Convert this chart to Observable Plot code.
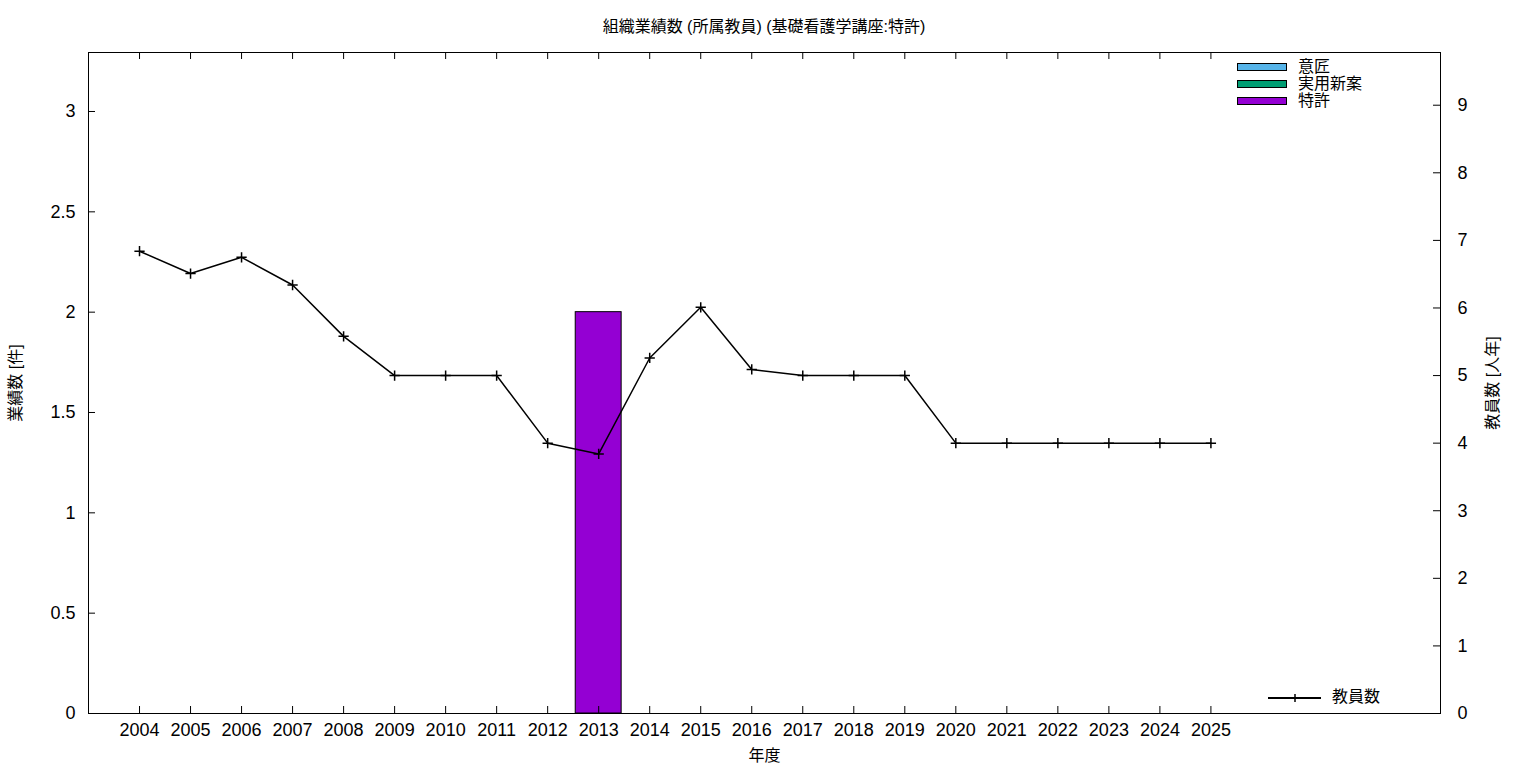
<!DOCTYPE html>
<html>
<head>
<meta charset="utf-8">
<script src="https://cdn.jsdelivr.net/npm/d3@7"></script>
<script src="https://cdn.jsdelivr.net/npm/@observablehq/plot@0.6"></script>
<style>
  body { margin: 0; background: #fff; font-family: "Liberation Sans", "Noto Sans CJK JP", sans-serif; }
  #wrap { position: relative; width: 1536px; height: 768px; overflow: hidden; }
  #title { height: 44px; box-sizing: border-box; padding-top: 6px; display: flex; align-items: center; justify-content: center; font-size: 16px; color: #000; padding-right: 8px; }
  .lg { position: absolute; font-size: 16px; line-height: 17px; color: #000; white-space: nowrap; }
  .sw { position: absolute; width: 50px; height: 8px; border: 1px solid #000; box-sizing: border-box; }
</style>
</head>
<body>
<div id="wrap">
  <div id="title"></div>
  <div id="chart"></div>
  <div id="legend"></div>
</div>
<script>
// ---- data ----
const titleText = "組織業績数 (所属教員) (基礎看護学講座:特許)";
const xLabel = "年度";
const yLabel = "業績数 [件]";
const y2Label = "教員数 [人年]";
const years = [2004, 2005, 2006, 2007, 2008, 2009, 2010, 2011, 2012, 2013, 2014, 2015, 2016, 2017, 2018, 2019, 2020, 2021, 2022, 2023, 2024, 2025];
const categories = ["意匠", "実用新案", "特許"];
const designCounts  = [0, 0, 0, 0, 0, 0, 0, 0, 0, 0, 0, 0, 0, 0, 0, 0, 0, 0, 0, 0, 0, 0];
const utilityCounts = [0, 0, 0, 0, 0, 0, 0, 0, 0, 0, 0, 0, 0, 0, 0, 0, 0, 0, 0, 0, 0, 0];
const patentCounts  = [0, 0, 0, 0, 0, 0, 0, 0, 0, 2, 0, 0, 0, 0, 0, 0, 0, 0, 0, 0, 0, 0];
const facultyLabel = "教員数";
const facultyCounts = [6.84, 6.51, 6.75, 6.34, 5.58, 5, 5, 5, 4, 3.84, 5.26, 6.01, 5.09, 5, 5, 5, 4, 4, 4, 4, 4, 4];
const leftTicks = [0, 0.5, 1, 1.5, 2, 2.5, 3];
const rightTicks = [0, 1, 2, 3, 4, 5, 6, 7, 8, 9];
const colors = ["#56b4e9", "#009e73", "#9400d3"];

// ---- build ----
const yMax = 3.294, y2Max = 9.78, k = yMax / y2Max;
const xDomain = [2003, 2029.5];
const series = [designCounts, utilityCounts, patentCounts];
const rects = [];
years.forEach((yr, i) => {
  let acc = 0;
  categories.forEach((c, j) => {
    const v = series[j][i];
    if (v > 0) rects.push({year: yr, category: c, y1: acc, y2: acc + v});
    acc += v;
  });
});
const facultyRows = years.map((yr, i) => ({year: yr, v: facultyCounts[i] * k}));

document.getElementById("title").textContent = titleText;

const W = 1536, H = 724;
const mL = 88, mR = 96, mT = 8, mB = 55;
const fw = W - mL - mR, fh = H - mT - mB;
const fontFam = '"Liberation Sans", "Noto Sans CJK JP", sans-serif';

const chart = Plot.plot({
  width: W, height: H,
  marginLeft: mL, marginRight: mR, marginTop: mT, marginBottom: mB,
  style: {fontFamily: fontFam, fontSize: "18px", color: "#000", background: "#fff", overflow: "visible"},
  x: {domain: xDomain, axis: null},
  y: {domain: [0, yMax], axis: null},
  color: {domain: categories, range: colors},
  marks: [
    Plot.rect(rects, {x1: d => d.year - 0.45, x2: d => d.year + 0.45, y1: "y1", y2: "y2", fill: "category", stroke: "#000", strokeWidth: 1}),
    Plot.line(facultyRows, {x: "year", y: "v", stroke: "#000", strokeWidth: 1.5}),
    Plot.dot(facultyRows, {x: "year", y: "v", symbol: "plus", r: 3.4, stroke: "#000", strokeWidth: 1.5}),
    // inward ticks
    Plot.tickY(leftTicks, {y: d => d, insetRight: fw - 7, stroke: "#000"}),
    Plot.tickY(rightTicks, {y: d => d * k, insetLeft: fw - 7, stroke: "#000"}),
    Plot.tickX(years, {x: d => d, insetTop: fh - 7, stroke: "#000"}),
    Plot.tickX(years, {x: d => d, insetBottom: fh - 7, stroke: "#000"}),
    // tick labels
    Plot.axisY(leftTicks, {anchor: "left", tickSize: 0, tickPadding: 13, fontSize: 18, tickFormat: d => String(d), label: null}),
    Plot.axisY(rightTicks.map(v => v * k), {anchor: "right", tickSize: 0, tickPadding: 17, fontSize: 18, tickFormat: d => String(Math.round(d / k)), label: null}),
    Plot.axisX(years, {anchor: "bottom", tickSize: 0, tickPadding: 10, fontSize: 18, tickFormat: d => String(d), label: null}),
    // axis titles
    Plot.text([yLabel], {text: d => d, frameAnchor: "left", dx: -73, rotate: -90, textAnchor: "middle", lineAnchor: "middle", fontSize: 16}),
    Plot.text([y2Label], {text: d => d, frameAnchor: "right", dx: 52, rotate: -90, textAnchor: "middle", lineAnchor: "middle", fontSize: 16}),
    Plot.text([xLabel], {text: d => d, frameAnchor: "bottom", dy: 42, textAnchor: "middle", lineAnchor: "middle", fontSize: 16}),
    Plot.frame({stroke: "#000", strokeWidth: 1})
  ]
});
document.getElementById("chart").appendChild(chart);

// legends
const lg = document.getElementById("legend");
categories.forEach((c, j) => {
  const sw = document.createElement("div");
  sw.className = "sw";
  sw.style.left = "1237px";
  sw.style.top = (63 + j * 17) + "px";
  sw.style.background = colors[j];
  lg.appendChild(sw);
  const t = document.createElement("div");
  t.className = "lg";
  t.style.left = "1298px";
  t.style.top = (58 + j * 17) + "px";
  t.textContent = c;
  lg.appendChild(t);
});
const ln = document.createElementNS("http://www.w3.org/2000/svg", "svg");
ln.setAttribute("width", "60"); ln.setAttribute("height", "14");
ln.style.position = "absolute"; ln.style.left = "1266px"; ln.style.top = "691px";
ln.innerHTML = '<line x1="2" x2="55" y1="7" y2="7" stroke="#000" stroke-width="2"/><line x1="29" x2="29" y1="3" y2="11" stroke="#000" stroke-width="1.5"/>';
lg.appendChild(ln);
const lt = document.createElement("div");
lt.className = "lg";
lt.style.left = "1332px"; lt.style.top = "688px";
lt.textContent = facultyLabel;
lg.appendChild(lt);
</script>
</body>
</html>
